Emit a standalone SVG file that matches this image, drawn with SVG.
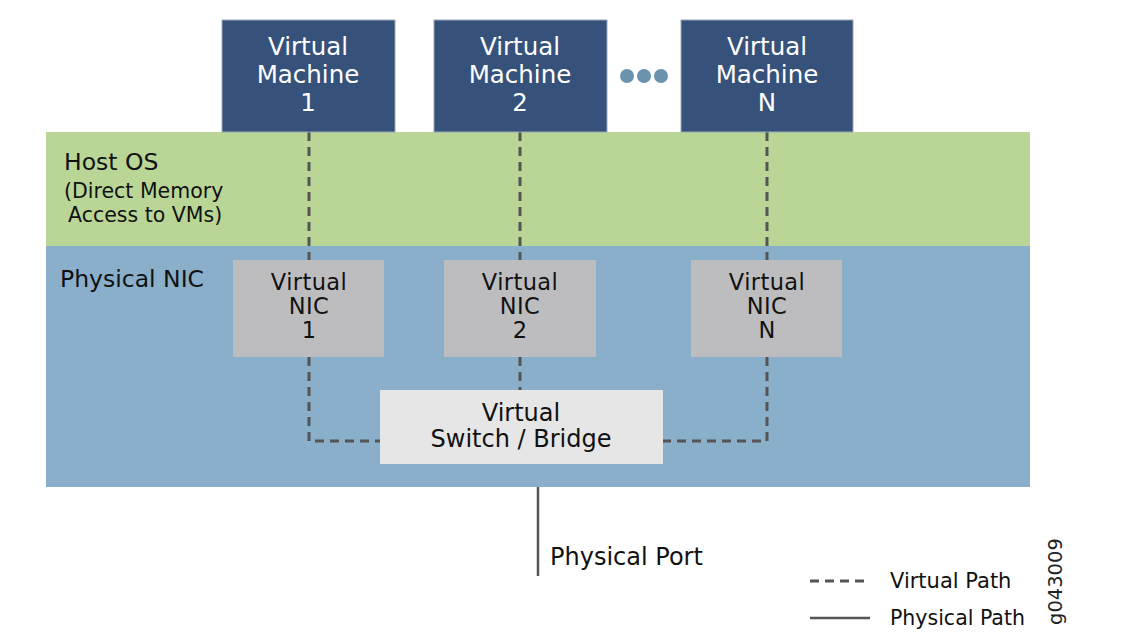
<svg xmlns="http://www.w3.org/2000/svg" width="1126" height="642" viewBox="0 0 1126 642">
<style>
text{font-family:"DejaVu Sans","Liberation Sans",sans-serif;}
.vm{fill:#36527a;stroke:#9aa7b8;stroke-width:1;}
.vmt{fill:#ffffff;font-size:24.5px;text-anchor:middle;}
.nic{fill:#bdbdbf;}
.nt{fill:#111;font-size:22.5px;letter-spacing:0.4px;text-anchor:middle;}
.st{fill:#111;font-size:24px;text-anchor:middle;}
.dash{fill:none;stroke:#555;stroke-width:3;stroke-dasharray:9,6;}
.solid{fill:none;stroke:#555;stroke-width:2.5;}
.lab{fill:#111;}
</style>
<rect width="1126" height="642" fill="#ffffff"/>
<g id="host-os">
<rect x="46" y="132" width="984" height="114" fill="#b9d696"/>
<text class="lab" x="64" y="170" font-size="23.5">Host OS</text>
<text class="lab" x="64" y="198" font-size="20.5">(Direct Memory</text>
<text class="lab" x="68" y="222" font-size="20.5">Access to VMs)</text>
</g>
<g id="physical-nic">
<rect x="46" y="246" width="984" height="241" fill="#8aafcb"/>
<text class="lab" x="60" y="287" font-size="23.5">Physical NIC</text>
</g>
<g id="connectors">
<path class="dash" d="M309 132 V441 H380"/>
<path class="dash" d="M520 132 V390"/>
<path class="dash" d="M767 132 V441 H663"/>
<path class="solid" d="M538 487 V576"/>
</g>
<g id="vm1">
<rect class="vm" x="222" y="20" width="173" height="112"/>
<text class="vmt" x="308" y="55">Virtual</text>
<text class="vmt" x="308" y="83">Machine</text>
<text class="vmt" x="308" y="111">1</text>
</g>
<g id="vm2">
<rect class="vm" x="434" y="20" width="173" height="112"/>
<text class="vmt" x="520" y="55">Virtual</text>
<text class="vmt" x="520" y="83">Machine</text>
<text class="vmt" x="520" y="111">2</text>
</g>
<g id="ellipsis">
<circle cx="627" cy="76" r="7" fill="#6a93ad"/>
<circle cx="644" cy="76" r="7" fill="#6a93ad"/>
<circle cx="661" cy="76" r="7" fill="#6a93ad"/>
</g>
<g id="vmn">
<rect class="vm" x="681" y="20" width="172" height="112"/>
<text class="vmt" x="767" y="55">Virtual</text>
<text class="vmt" x="767" y="83">Machine</text>
<text class="vmt" x="767" y="111">N</text>
</g>
<g id="vnic1">
<rect class="nic" x="233" y="260" width="151" height="97"/>
<text class="nt" x="309" y="290">Virtual</text>
<text class="nt" x="309" y="314">NIC</text>
<text class="nt" x="309" y="338">1</text>
</g>
<g id="vnic2">
<rect class="nic" x="444" y="260" width="152" height="97"/>
<text class="nt" x="520" y="290">Virtual</text>
<text class="nt" x="520" y="314">NIC</text>
<text class="nt" x="520" y="338">2</text>
</g>
<g id="vnicn">
<rect class="nic" x="691" y="260" width="151" height="97"/>
<text class="nt" x="767" y="290">Virtual</text>
<text class="nt" x="767" y="314">NIC</text>
<text class="nt" x="767" y="338">N</text>
</g>
<g id="switch">
<rect x="380" y="390" width="283" height="74" fill="#e6e6e6"/>
<text class="st" x="521" y="421">Virtual</text>
<text class="st" x="521" y="447">Switch / Bridge</text>
</g>
<g id="physical-port">
<text class="lab" x="550" y="565" font-size="24">Physical Port</text>
</g>
<g id="legend">
<line class="dash" x1="810" y1="581" x2="870" y2="581"/>
<line class="solid" x1="810" y1="618" x2="870" y2="618"/>
<text class="lab" x="890" y="588" font-size="21" fill="#222">Virtual Path</text>
<text class="lab" x="890" y="625" font-size="20.5" fill="#222">Physical Path</text>
<text x="1062" y="625" font-size="19.5" fill="#222" transform="rotate(-90 1062 625)">g043009</text>
</g>
</svg>
